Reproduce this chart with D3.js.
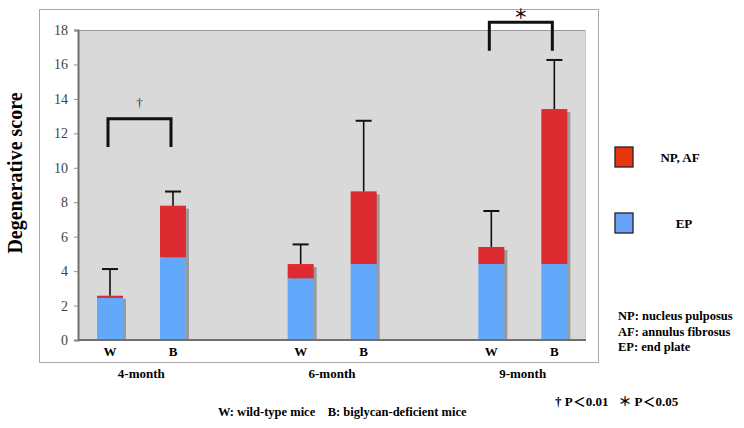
<!DOCTYPE html>
<html>
<head>
<meta charset="utf-8">
<script src="https://cdn.jsdelivr.net/npm/d3@7"></script>
<style>
  body { margin: 0; background: #fff; }
  svg text { font-family: "Liberation Serif", "Times New Roman", serif !important; }
  svg text.cjk, svg tspan.cjk { font-family: "Noto Sans CJK JP", sans-serif !important; }
</style>
</head>
<body>
<svg id="chart" width="744" height="428"></svg>
<script>
const groups = ["4-month", "6-month", "9-month"];
const genotypes = ["W", "B"];
const epValues = [2.44, 4.80, 3.58, 4.41, 4.41, 4.41];
const npafValues = [0.13, 3.00, 0.83, 4.22, 0.99, 9.00];
const sdValues = [1.55, 0.82, 1.14, 4.10, 2.09, 2.85];
const yTicks = [0, 2, 4, 6, 8, 10, 12, 14, 16, 18];
const brackets = [
  { group: "4-month", low: 11.2, high: 12.85, label: "†" },
  { group: "9-month", low: 16.8, high: 18.45, label: "＊" }
];

const rows = [];
groups.forEach((g, gi) => genotypes.forEach((t, ti) => {
  const i = gi * 2 + ti;
  rows.push({ group: g, type: t, ep: epValues[i], npaf: npafValues[i], sd: sdValues[i] });
}));

const svg = d3.select("#chart");
const plot = { left: 78, right: 586, top: 30, bottom: 340 };

const y = d3.scaleLinear().domain([0, 18]).range([plot.bottom, plot.top]);
const xGroup = d3.scaleBand().domain(groups).range([46, 618]).padding(0);
const xInner = d3.scalePoint().domain(genotypes).range([64, 127]);
const barW = 26;
const cx = d => xGroup(d.group) + xInner(d.type);

const red = "#dc2b31", blue = "#62a9fb";

// outer frame
svg.append("rect").attr("x", 39.5).attr("y", 9.5).attr("width", 559).attr("height", 353)
  .attr("fill", "#fff").attr("stroke", "#a8a8a8").attr("stroke-width", 1);

// plot background
svg.append("rect").attr("x", plot.left).attr("y", plot.top)
  .attr("width", plot.right - plot.left).attr("height", plot.bottom - plot.top)
  .attr("fill", "#d9d9d9");
svg.append("line").attr("x1", plot.left).attr("x2", plot.right).attr("y1", plot.top + 0.5).attr("y2", plot.top + 0.5)
  .attr("stroke", "#9a9a9a");
svg.append("line").attr("x1", plot.right - 0.5).attr("x2", plot.right - 0.5).attr("y1", plot.top).attr("y2", plot.bottom)
  .attr("stroke", "#c8c8c8");

// y axis
const yAxis = d3.axisLeft(y).tickValues(yTicks).tickSize(4).tickPadding(6);
const gy = svg.append("g").attr("transform", `translate(${plot.left},0)`).call(yAxis);
gy.attr("font-family", null);
gy.select(".domain").attr("stroke", "#707070").attr("stroke-width", 2);
gy.selectAll(".tick line").attr("stroke", "#909090");
gy.selectAll(".tick text").attr("font-size", 14).attr("fill", "#444");

// x baseline
svg.append("line").attr("x1", plot.left).attr("x2", plot.right).attr("y1", plot.bottom).attr("y2", plot.bottom)
  .attr("stroke", "#707070").attr("stroke-width", 2);

// bar shadows
svg.selectAll(".shadow").data(rows).enter().append("rect")
  .attr("x", d => cx(d) - barW / 2 + 3)
  .attr("y", d => y(d.ep + d.npaf) + 3)
  .attr("width", barW)
  .attr("height", d => plot.bottom - 1 - y(d.ep + d.npaf) - 3)
  .attr("fill", "#9a9a9a");

// EP bars
svg.selectAll(".ep").data(rows).enter().append("rect")
  .attr("x", d => cx(d) - barW / 2)
  .attr("y", d => y(d.ep))
  .attr("width", barW)
  .attr("height", d => plot.bottom - 1 - y(d.ep))
  .attr("fill", blue);

// NP, AF bars
svg.selectAll(".np").data(rows).enter().append("rect")
  .attr("x", d => cx(d) - barW / 2)
  .attr("y", d => y(d.ep + d.npaf))
  .attr("width", barW)
  .attr("height", d => y(d.ep) - y(d.ep + d.npaf))
  .attr("fill", red);

// error bars
const err = svg.append("g").attr("stroke", "#111").attr("stroke-width", 1.6);
rows.forEach(d => {
  const top = y(d.ep + d.npaf + d.sd);
  err.append("line").attr("x1", cx(d)).attr("x2", cx(d)).attr("y1", y(d.ep + d.npaf)).attr("y2", top);
  err.append("line").attr("x1", cx(d) - 8).attr("x2", cx(d) + 8).attr("y1", top).attr("y2", top).attr("stroke-width", 2);
});

// brackets
brackets.forEach(b => {
  const x1 = xGroup(b.group) + xInner("W") - 2;
  const x2 = xGroup(b.group) + xInner("B") - 2;
  svg.append("path")
    .attr("d", `M${x1},${y(b.low)}V${y(b.high)}H${x2}V${y(b.low)}`)
    .attr("fill", "none").attr("stroke", "#111").attr("stroke-width", 3);
  const isDagger = b.label === "†";
  svg.append("text").attr("x", (x1 + x2) / 2).attr("y", y(b.high) - (isDagger ? 12 : 3))
    .attr("class", isDagger ? null : "cjk")
    .attr("text-anchor", "middle").attr("font-size", isDagger ? 13 : 14)
    .attr("font-weight", isDagger ? "normal" : "bold")
    .attr("fill", isDagger ? "#333" : "#111").text(b.label);
});

// W / B labels
svg.selectAll(".tlab").data(rows).enter().append("text")
  .attr("x", d => cx(d)).attr("y", 356)
  .attr("text-anchor", "middle").attr("font-size", 13).attr("font-weight", "bold")
  .text(d => d.type);

// group labels
svg.selectAll(".glab").data(groups).enter().append("text")
  .attr("x", g => xGroup(g) + xGroup.bandwidth() / 2).attr("y", 378)
  .attr("text-anchor", "middle").attr("font-size", 13).attr("font-weight", "bold")
  .text(g => g);

// y title
svg.append("text").attr("transform", "translate(22,173) rotate(-90)")
  .attr("text-anchor", "middle").attr("font-size", 20).attr("font-weight", "bold")
  .text("Degenerative score");

// legend
const legend = [
  { label: "NP, AF", color: "#e8350f", y: 147, tx: 680 },
  { label: "EP", color: "#6aa0f8", y: 213, tx: 684 }
];
legend.forEach(l => {
  svg.append("rect").attr("x", 615).attr("y", l.y).attr("width", 18).attr("height", 20)
    .attr("fill", l.color).attr("stroke", "#222").attr("stroke-width", 1.3);
  svg.append("text").attr("x", l.tx).attr("y", l.y + 15).attr("text-anchor", "middle")
    .attr("font-size", 13).attr("font-weight", "bold").text(l.label);
});

// abbreviations
["NP: nucleus pulposus", "AF: annulus fibrosus", "EP: end plate"].forEach((t, i) => {
  svg.append("text").attr("x", 618).attr("y", 320 + i * 15.5)
    .attr("font-size", 12.5).attr("font-weight", "bold").text(t);
});

svg.append("text").attr("x", 218).attr("y", 416).attr("font-size", 12.5).attr("font-weight", "bold")
  .attr("xml:space", "preserve")
  .text("W: wild-type mice    B: biglycan-deficient mice");

const sig = svg.append("text").attr("x", 555).attr("y", 406).attr("font-size", 13).attr("font-weight", "bold");
sig.append("tspan").text("† P");
sig.append("tspan").attr("class", "cjk").text("＜");
sig.append("tspan").text("0.01");
sig.append("tspan").attr("class", "cjk").attr("dx", 10).text("＊");
sig.append("tspan").attr("dx", 3).text("P");
sig.append("tspan").attr("class", "cjk").text("＜");
sig.append("tspan").text("0.05");
</script>
</body>
</html>
